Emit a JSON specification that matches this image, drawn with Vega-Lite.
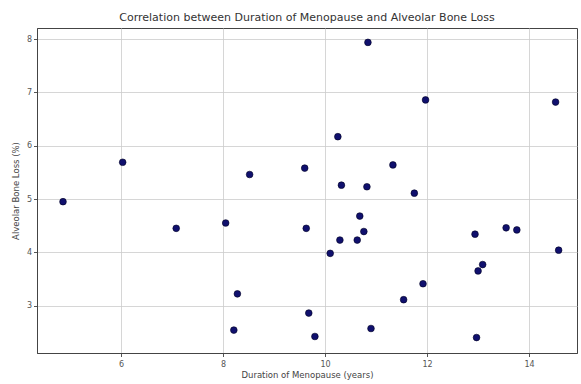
{
  "$schema": "https://vega.github.io/schema/vega-lite/v6.json",
  "autosize": {"type": "none"},
  "width": 540,
  "height": 325,
  "padding": {"left": 37, "top": 28, "right": 4, "bottom": 31},
  "background": "white",
  "title": {
    "text": "Correlation between Duration of Menopause and Alveolar Bone Loss",
    "font": "DejaVu Sans",
    "fontSize": 11,
    "fontWeight": "normal",
    "color": "#333333",
    "anchor": "middle",
    "offset": 5
  },
  "config": {
    "view": {"stroke": "#444444", "strokeWidth": 1},
    "axis": {
      "labelFont": "DejaVu Sans",
      "titleFont": "DejaVu Sans",
      "labelFontSize": 8,
      "titleFontSize": 8.5,
      "titleFontWeight": "normal",
      "labelColor": "#555555",
      "titleColor": "#444444",
      "gridColor": "#cccccc",
      "gridWidth": 0.8,
      "domainColor": "#444444",
      "tickColor": "#555555",
      "tickSize": 3.5
    }
  },
  "data": {
    "values": [
      {"duration": 4.86, "loss": 4.95},
      {"duration": 6.03, "loss": 5.69},
      {"duration": 7.08, "loss": 4.45},
      {"duration": 8.52, "loss": 5.46},
      {"duration": 8.05, "loss": 4.55},
      {"duration": 8.28, "loss": 3.22},
      {"duration": 8.21, "loss": 2.54},
      {"duration": 9.6, "loss": 5.58},
      {"duration": 9.63, "loss": 4.45},
      {"duration": 9.68, "loss": 2.86},
      {"duration": 10.84, "loss": 7.94},
      {"duration": 11.97, "loss": 6.86},
      {"duration": 14.52, "loss": 6.82},
      {"duration": 10.25, "loss": 6.17},
      {"duration": 11.33, "loss": 5.64},
      {"duration": 10.32, "loss": 5.26},
      {"duration": 10.82, "loss": 5.23},
      {"duration": 11.75, "loss": 5.11},
      {"duration": 10.68, "loss": 4.68},
      {"duration": 10.76, "loss": 4.39},
      {"duration": 10.29, "loss": 4.23},
      {"duration": 10.63, "loss": 4.23},
      {"duration": 10.1, "loss": 3.98},
      {"duration": 12.94, "loss": 4.34},
      {"duration": 13.55, "loss": 4.46},
      {"duration": 13.76, "loss": 4.42},
      {"duration": 14.58, "loss": 4.04},
      {"duration": 13.09, "loss": 3.77},
      {"duration": 13.0, "loss": 3.65},
      {"duration": 11.92, "loss": 3.41},
      {"duration": 11.54, "loss": 3.11},
      {"duration": 10.9, "loss": 2.57},
      {"duration": 9.8, "loss": 2.42},
      {"duration": 12.97, "loss": 2.4}
    ]
  },
  "mark": {"type": "point", "filled": true, "size": 45, "color": "#10106e", "opacity": 1, "stroke": "#000022", "strokeWidth": 0.6},
  "encoding": {
    "x": {
      "field": "duration",
      "type": "quantitative",
      "scale": {"domain": [4.35, 14.94], "nice": false, "zero": false},
      "axis": {"values": [6, 8, 10, 12, 14], "title": "Duration of Menopause (years)", "titlePadding": 2, "labelPadding": 4}
    },
    "y": {
      "field": "loss",
      "type": "quantitative",
      "scale": {"domain": [2.11, 8.21], "nice": false, "zero": false},
      "axis": {"values": [3, 4, 5, 6, 7, 8], "title": "Alveolar Bone Loss (%)", "titlePadding": 6}
    }
  }
}
